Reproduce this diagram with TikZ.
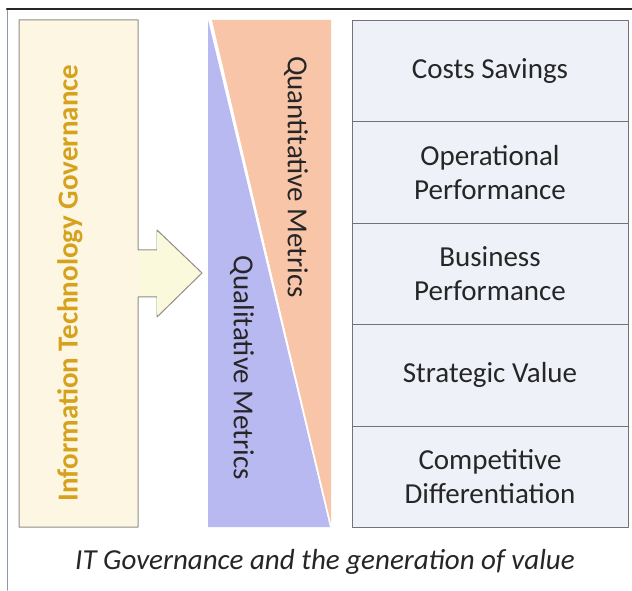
\documentclass[tikz,border=0pt]{standalone}
\usepackage{fontspec}
\setmainfont{Carlito}
\usetikzlibrary{positioning}

\definecolor{govfill}{HTML}{FCF6E2}
\definecolor{govtext}{HTML}{D6A21E}
\definecolor{headfill}{HTML}{FBF9DC}
\definecolor{quantfill}{HTML}{F9C5A9}
\definecolor{qualfill}{HTML}{B9B9F2}
\definecolor{valfill}{HTML}{EEF1F8}
\definecolor{darktext}{HTML}{262626}

\tikzset{
  valbox/.style={draw=gray!90!black,fill=valfill,line width=0.9pt,minimum width=276pt,
    minimum height=101.5pt,inner sep=0pt,outer sep=0pt,align=center,text=darktext,
    font=\fontsize{29}{34}\selectfont},
  metric/.style={rotate=-90,text=darktext,font=\fontsize{29}{34}\selectfont}
}

\begin{document}
\begin{tikzpicture}[line cap=round,line join=round,x=1pt,y=1pt]
\useasboundingbox (0,0) rectangle (632,590);
\fill[white] (0,0) rectangle (632,590);
% frame lines
\draw[line width=1.5pt,color={rgb,255:red,138;green,154;blue,170}] (7.5,581)--(7.5,0);
\draw[line width=2.5pt,color=black!85] (7,581)--(632,581);

% governance box with its arrow
\draw[fill=govfill,draw=black!40!govfill!70!gray,line width=1pt]
  (19,570)--(138,570)--(138,340)--(157,340)--(157,360)--(202,317)
  --(157,273)--(157,293)--(138,293)--(138,63)--(19,63)--cycle;
\fill[headfill] (139,339)--(157,339)--(157,358)--(200,317)--(157,275)--(157,294)--(139,294)--cycle;
\node[rotate=90,text=govtext,font=\fontsize{29}{34}\selectfont\bfseries] (gov) at (70,307)
  {Information Technology Governance};

% the two metric wedges
\fill[quantfill] (212,570)--(331,570)--(331,63)--cycle;
\fill[qualfill] (208,570)--(208,63)--(330,63)--cycle;
\draw[white,line width=1.5pt] (210,570)--(331,63);
\node[metric] (quant) at (296,413) {Quantitative Metrics};
\node[metric] (qual) at (242,222) {Qualitative Metrics};

% value boxes
\node[valbox] (cost) at (490,519.25) {Costs Savings};
\node[valbox,below=0pt of cost] (oper) {Operational\\Performance};
\node[valbox,below=0pt of oper] (bus) {Business\\Performance};
\node[valbox,below=0pt of bus] (strat) {Strategic Value};
\node[valbox,below=0pt of strat] (comp) {Competitive\\Differentiation};

\node[text=darktext,font=\fontsize{29}{34}\selectfont\itshape] (cap) at (325,28)
  {IT Governance and the generation of value};
\end{tikzpicture}
\end{document}
